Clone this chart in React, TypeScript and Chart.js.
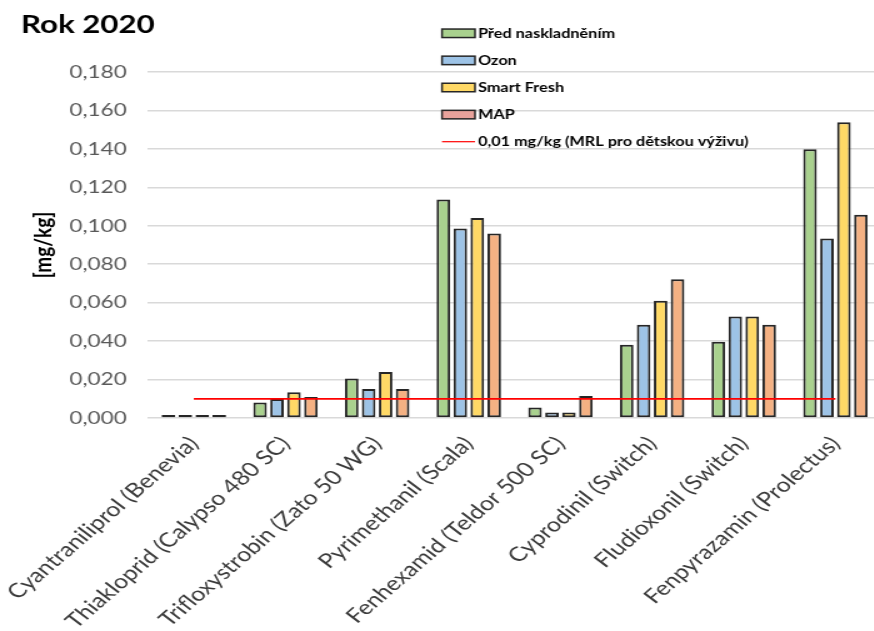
import React, { useEffect, useRef } from 'react';
import { Chart, registerables } from 'chart.js';

Chart.register(...registerables);

const TITLE = 'Rok 2020';
const Y_TITLE = '[mg/kg]';

const categories = [
  'Cyantraniliprol (Benevia)',
  'Thiakloprid (Calypso 480 SC)',
  'Trifloxystrobin (Zato 50 WG)',
  'Pyrimethanil (Scala)',
  'Fenhexamid (Teldor 500 SC)',
  'Cyprodinil (Switch)',
  'Fludioxonil (Switch)',
  'Fenpyrazamin (Prolectus)',
];

const seriesNames = [
  'Před naskladněním',
  'Ozon',
  'Smart Fresh',
  'MAP',
  '0,01 mg/kg (MRL pro dětskou výživu)',
];

const predNaskladnenim = [0.0015, 0.008, 0.0205, 0.1137, 0.0054, 0.0381, 0.0397, 0.1398];
const ozon = [0.0005, 0.0099, 0.0151, 0.0986, 0.0028, 0.0485, 0.0528, 0.0934];
const smartFresh = [0.0005, 0.0134, 0.0239, 0.104, 0.0028, 0.061, 0.0528, 0.1538];
const mapValues = [0.0005, 0.0109, 0.0151, 0.096, 0.0114, 0.0722, 0.0485, 0.1057];
const mrlLimit = [0.01, 0.01, 0.01, 0.01, 0.01, 0.01, 0.01, 0.01];

const yMin = 0;
const yMax = 0.18;
const yStep = 0.02;

const FONT = 'Lato, "Open Sans", sans-serif';
const STRETCH = 1.25;
const CANVAS_W = 708;
const CANVAS_H = 631;

const overlayPlugin = {
  id: 'overlayTitleLegend',
  afterDraw(chart: any) {
    const ctx = chart.ctx;
    ctx.save();
    ctx.fillStyle = '#000000';
    ctx.font = `bold 25px ${FONT}`;
    ctx.textAlign = 'left';
    ctx.textBaseline = 'alphabetic';
    ctx.fillText(TITLE, 16.8, 33);

    const x0 = 353.6;
    const sw = 26.4;
    const sh = 8.5;
    const tx = 382.4;
    const y0 = 33.3;
    const dy = 27.1;
    ctx.font = `bold 13px ${FONT}`;
    ctx.textBaseline = 'middle';
    chart.data.datasets.forEach((ds: any, i: number) => {
      const cy = y0 + i * dy;
      if (ds.type === 'line') {
        ctx.strokeStyle = ds.borderColor;
        ctx.lineWidth = 1.2;
        ctx.beginPath();
        ctx.moveTo(x0, cy);
        ctx.lineTo(x0 + sw, cy);
        ctx.stroke();
      } else {
        ctx.fillStyle = ds.legendColor || ds.backgroundColor;
        ctx.fillRect(x0, cy - sh / 2, sw, sh);
        ctx.strokeStyle = '#262626';
        ctx.lineWidth = 1.5;
        ctx.strokeRect(x0, cy - sh / 2, sw, sh);
      }
      ctx.fillStyle = '#000000';
      ctx.fillText(ds.label, tx, cy + 0.5);
    });
    ctx.restore();
  },
};

export default function App() {
  const canvasRef = useRef<HTMLCanvasElement | null>(null);

  useEffect(() => {
    if (!canvasRef.current) return;
    const barCommon = {
      type: 'bar' as const,
      borderColor: '#262626',
      borderWidth: 2,
      borderSkipped: false,
      minBarLength: 3,
      categoryPercentage: 0.74,
      barPercentage: 0.8,
      order: 1,
    };
    const chart = new Chart(canvasRef.current, {
      type: 'bar',
      data: {
        labels: categories,
        datasets: [
          { ...barCommon, label: seriesNames[0], data: predNaskladnenim, backgroundColor: '#A9D18E' },
          { ...barCommon, label: seriesNames[1], data: ozon, backgroundColor: '#9DC3E6' },
          { ...barCommon, label: seriesNames[2], data: smartFresh, backgroundColor: '#FFD966' },
          { ...barCommon, label: seriesNames[3], data: mapValues, backgroundColor: '#F4B183', legendColor: '#E8A29B' },
          {
            type: 'line',
            label: seriesNames[4],
            data: mrlLimit,
            borderColor: '#FF0000',
            borderWidth: 1.8,
            pointRadius: 0,
            fill: false,
            order: 0,
          } as any,
        ] as any,
      },
      options: {
        responsive: false,
        animation: false,
        devicePixelRatio: 1,
        layout: { padding: { top: 72, right: 3, left: 0, bottom: 0 } },
        plugins: {
          legend: { display: false },
          title: { display: false },
          tooltip: { enabled: false },
        },
        scales: {
          x: {
            type: 'category',
            offset: true,
            grid: { display: false, drawTicks: false },
            border: { display: false },
            ticks: {
              autoSkip: false,
              minRotation: 47,
              maxRotation: 47,
              padding: 14,
              color: '#3A3A3A',
              font: { family: FONT, size: 20 },
            },
            afterFit(scale: any) {
              scale.height = 213;
              scale.paddingLeft = 0;
              scale.paddingRight = 0;
            },
          },
          y: {
            min: yMin,
            max: yMax,
            grid: { color: '#D9D9D9', lineWidth: 1.5, drawTicks: false },
            border: { display: false },
            ticks: {
              stepSize: yStep,
              padding: 17,
              color: '#595959',
              font: { family: FONT, size: 18 },
              callback: (v: any) => Number(v).toFixed(3).replace('.', ','),
            },
            title: {
              display: true,
              text: Y_TITLE,
              color: '#000000',
              font: { family: FONT, size: 19, weight: 'bold' },
              padding: { top: 23, bottom: 0 },
            },
            afterFit(scale: any) {
              scale.width = 118.4;
            },
          },
        },
      } as any,
      plugins: [overlayPlugin],
    });
    return () => chart.destroy();
  }, []);

  return (
    <div
      style={{
        position: 'fixed',
        left: 0,
        top: 0,
        width: 874,
        height: 631,
        overflow: 'hidden',
        background: '#ffffff',
      }}
    >
      <div
        style={{
          width: CANVAS_W,
          height: CANVAS_H,
          transform: `scaleX(${STRETCH})`,
          transformOrigin: '0 0',
        }}
      >
        <canvas ref={canvasRef} width={CANVAS_W} height={CANVAS_H} />
      </div>
    </div>
  );
}
